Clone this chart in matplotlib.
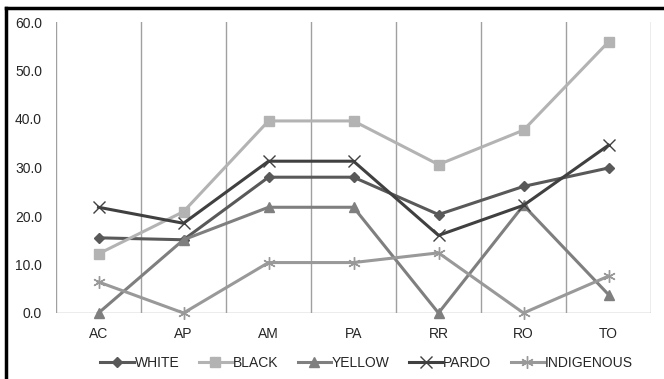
import matplotlib
matplotlib.use("Agg")
import matplotlib.pyplot as plt
from matplotlib.lines import Line2D

categories = ["AC", "AP", "AM", "PA", "RR", "RO", "TO"]
white = [15.5, 15.1, 28.0, 28.0, 20.3, 26.1, 29.9]
black = [12.2, 20.9, 39.6, 39.6, 30.6, 37.7, 55.9]
yellow = [0.0, 15.1, 21.8, 21.8, 0.0, 22.2, 3.8]
pardo = [21.8, 18.5, 31.3, 31.3, 16.0, 22.2, 34.6]
indigenous = [6.4, 0.0, 10.4, 10.4, 12.4, 0.0, 7.6]
yticks = [0, 10, 20, 30, 40, 50, 60]

plt.rcParams['font.family'] = ['Liberation Sans', 'DejaVu Sans']

fig = plt.figure(figsize=(6.64, 3.79), dpi=100)
ax = fig.add_axes([56/664, 1-313/379, (651-56)/664, (313-22)/379])

x = list(range(len(categories)))
series = [
    ("WHITE", white, "#595959", "D", 5, 2.2),
    ("BLACK", black, "#b3b3b3", "s", 7, 2.2),
    ("YELLOW", yellow, "#7f7f7f", "^", 7, 2.2),
    ("PARDO", pardo, "#404040", "x", 8, 2.2),
    ("INDIGENOUS", indigenous, "#999999", (6, 2, 0), 9, 2.2),
]
for name, vals, col, mk, ms, lw in series:
    ax.plot(x, vals, color=col, lw=lw, marker=mk, markersize=ms,
            markeredgecolor=col, markerfacecolor=col, markeredgewidth=1.0,
            label=name, clip_on=False, zorder=3)

ax.set_xlim(-0.5, len(categories) - 0.5)
ax.set_ylim(0, 60)
for b in [i - 0.5 for i in range(len(categories) + 1)]:
    ax.axvline(b, color="#a0a0a0", lw=1.0, zorder=1)
ax.axhline(0, color="#a0a0a0", lw=1.0, zorder=1)
for s in ax.spines.values():
    s.set_visible(False)
ax.set_yticks(yticks)
ax.set_yticklabels([f"{v:.1f}" for v in yticks], fontsize=10, color="#262626")
ax.set_xticks(x)
ax.set_xticklabels(categories, fontsize=10, color="#262626")
ax.tick_params(axis="both", length=0)
ax.tick_params(axis="y", pad=10)
ax.tick_params(axis="x", pad=10)

leg = ax.legend(loc="upper center", bbox_to_anchor=(0.522, -0.105), ncol=5,
                frameon=False, fontsize=10, handlelength=2.4,
                handletextpad=0.05, columnspacing=1.4, labelcolor="#262626")

# outer frame (top and left edges visible)
fig.add_artist(Line2D([6/664, 6/664], [0, 1-8/379], color="black", lw=2.5, transform=fig.transFigure))
fig.add_artist(Line2D([6/664, 1], [1-8/379, 1-8/379], color="black", lw=2.5, transform=fig.transFigure))

fig.savefig("out.png", dpi=100)
